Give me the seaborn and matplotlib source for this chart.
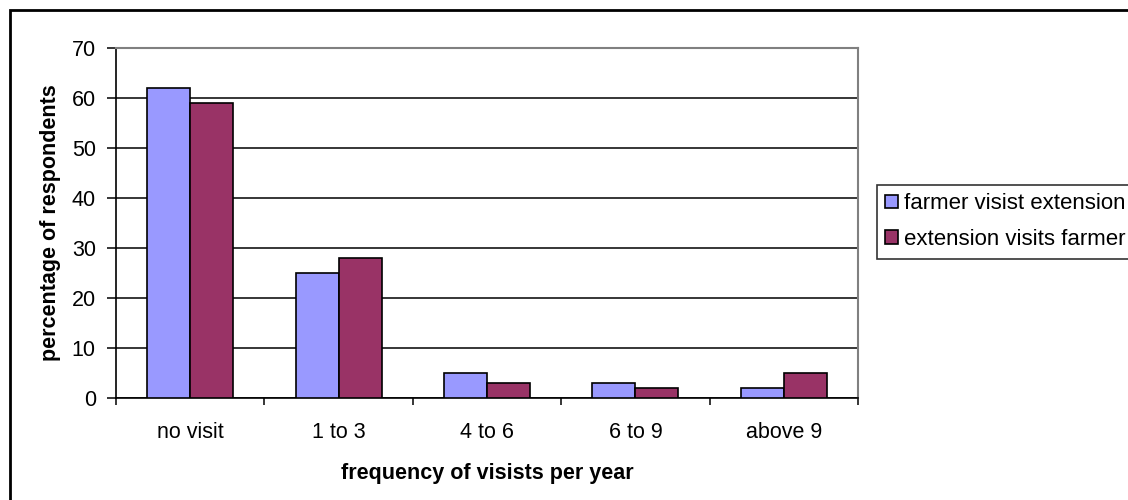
import matplotlib
matplotlib.use("Agg")
import matplotlib.pyplot as plt
from matplotlib.patches import Rectangle
import seaborn as sns
import pandas as pd
import numpy as np

categories = ["no visit", "1 to 3", "4 to 6", "6 to 9", "above 9"]
farmer_visits_extension = [62, 25, 5, 3, 2]
extension_visits_farmer = [59, 28, 3, 2, 5]
series_names = ["farmer visist extension", "extension visits farmer"]
colors = ["#9999FF", "#993366"]

df = pd.DataFrame({
    "category": categories * 2,
    "value": farmer_visits_extension + extension_visits_farmer,
    "series": [series_names[0]] * len(categories) + [series_names[1]] * len(categories),
})

sns.set_theme(style="white")
plt.rcParams["font.family"] = ["Liberation Sans", "DejaVu Sans"]
plt.rcParams["text.color"] = "black"
plt.rcParams["axes.labelcolor"] = "black"
FS = 15.5

fig = plt.figure(figsize=(11.28, 5), dpi=100)
ax = fig.add_axes([116 / 1128, 1 - 398 / 500, (858 - 116) / 1128, (398 - 48) / 500])

sns.barplot(data=df, x="category", y="value", hue="series", order=categories,
            hue_order=series_names, palette=colors, edgecolor="black",
            linewidth=1.2, width=0.58, gap=0, saturation=1, ax=ax, legend=True, zorder=3)

ax.set_xlim(-0.5, len(categories) - 0.5)
ax.set_ylim(0, 70)
ax.set_yticks(np.arange(0, 71, 10))
ax.yaxis.grid(True, color="black", linewidth=1.1, zorder=0)
ax.set_axisbelow(True)

# category labels centred, tick marks on the boundaries
ax.set_xticks(range(len(categories)))
ax.set_xticklabels(categories)
ax.set_xticks(np.arange(-0.5, len(categories), 1), minor=True)
ax.tick_params(axis="x", which="major", length=0, pad=17, labelsize=FS, colors="black")
ax.tick_params(axis="x", which="minor", length=5, width=1.1, direction="out",
               color="black", bottom=True)
ax.tick_params(axis="y", which="major", length=6.5, width=1.1, direction="out",
               left=True, labelsize=FS, pad=8, colors="black")

for side in ["left", "bottom"]:
    ax.spines[side].set_color("black")
    ax.spines[side].set_linewidth(1.2)
for side in ["top", "right"]:
    ax.spines[side].set_visible(True)
    ax.spines[side].set_color("#808080")
    ax.spines[side].set_linewidth(1.5)

ax.set_xlabel("frequency of visists per year", fontsize=FS, fontweight="bold",
              labelpad=15, color="black")
ax.set_ylabel("percentage of respondents", fontsize=FS, fontweight="bold",
              labelpad=8, color="black")

handles, labels = ax.get_legend_handles_labels()
ax.get_legend().remove()
leg = fig.legend(handles, labels, loc="upper left",
                 bbox_to_anchor=(877 / 1128, 1 - 185 / 500),
                 frameon=True, fancybox=False, edgecolor="black", fontsize=16,
                 handlelength=0.57, handleheight=0.57, handletextpad=0.26,
                 labelspacing=0.66, borderpad=0.38, borderaxespad=0,
                 labelcolor="black")
leg.get_frame().set_linewidth(1.2)

# chart area frame
fig.patches.append(Rectangle((10 / 1128, -0.1), 1.2, 1 - 10 / 500 + 0.1,
                             transform=fig.transFigure, fill=False,
                             edgecolor="black", linewidth=2))

fig.savefig("out.png", dpi=100, facecolor="white")
